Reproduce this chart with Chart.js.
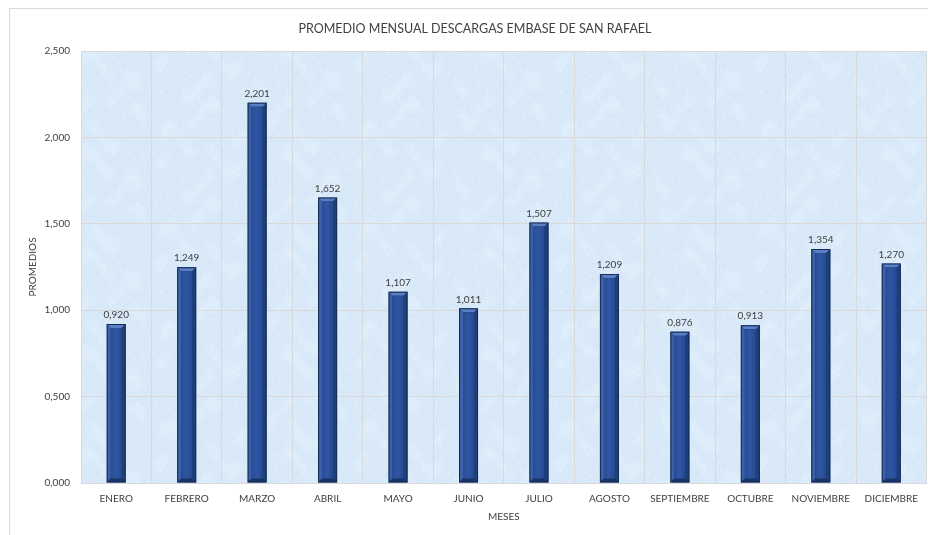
<!DOCTYPE html>
<html lang="es">
<head>
    <meta charset="UTF-8">
    <title>Promedio mensual descargas</title>
    <script src="https://cdn.jsdelivr.net/npm/chart.js"></script>
    <style>
        html, body { margin: 0; padding: 0; background: #fff; }
        #grafica { display: block; }
    </style>
</head>
<body>
    <canvas id="grafica" width="928" height="535"></canvas>

    <script>
        // Datos de la grafica
        const meses = ['ENERO', 'FEBRERO', 'MARZO', 'ABRIL', 'MAYO', 'JUNIO', 'JULIO',
                       'AGOSTO', 'SEPTIEMBRE', 'OCTUBRE', 'NOVIEMBRE', 'DICIEMBRE'];
        const promedios = [0.920, 1.249, 2.201, 1.652, 1.107, 1.011, 1.507,
                           1.209, 0.876, 0.913, 1.354, 1.270];
        const marcasY = [0, 0.5, 1, 1.5, 2, 2.5];

        const fuente = 'Lato, "Open Sans", sans-serif';
        const gris = '#404040';

        // 1.249 -> "1,249"
        function formato(v) {
            return Number(v).toFixed(3).replace('.', ',');
        }

        // textura clara (tipo marmol) para el fondo del area de trazado
        function texturaFondo(ctx) {
            const t = 200;
            const c = document.createElement('canvas');
            c.width = t; c.height = t;
            const g = c.getContext('2d');
            g.fillStyle = '#d4e5f6';
            g.fillRect(0, 0, t, t);
            const img = g.getImageData(0, 0, t, t);
            const k = Math.PI * 2 / t;
            for (let y = 0; y < t; y++) {
                for (let x = 0; x < t; x++) {
                    const a = Math.sin(3 * k * x + 1.7 * Math.sin(2 * k * y)) *
                              Math.sin(4 * k * y + 1.3 * Math.sin(5 * k * x));
                    const h = Math.sin(x * 12.9898 + y * 78.233) * 43758.5453;
                    const n = (h - Math.floor(h)) * 9;
                    const claro = Math.max(0, a) * 6 + n;
                    const i = (y * t + x) * 4;
                    img.data[i] = Math.min(255, img.data[i] + claro);
                    img.data[i + 1] = Math.min(255, img.data[i + 1] + claro * 0.8);
                    img.data[i + 2] = Math.min(255, img.data[i + 2] + claro * 0.4);
                }
            }
            g.putImageData(img, 0, 0);
            return ctx.createPattern(c, 'repeat');
        }

        // fondo blanco, marco del grafico y fondo del area de trazado
        const fondo = {
            id: 'fondo',
            beforeDraw(chart) {
                const ctx = chart.ctx;
                const a = chart.chartArea;
                ctx.save();
                ctx.fillStyle = '#ffffff';
                ctx.fillRect(0, 0, chart.width, chart.height);
                ctx.strokeStyle = '#d9d9d9';
                ctx.lineWidth = 1;
                ctx.strokeRect(9.5, 8.5, chart.width + 10, chart.height + 10);
                ctx.fillStyle = texturaFondo(ctx);
                ctx.fillRect(a.left, a.top, a.right - a.left, a.bottom - a.top);
                ctx.restore();
            }
        };

        // relieve de las barras y etiquetas de valor
        const relieve = {
            id: 'relieve',
            afterDatasetsDraw(chart) {
                const ctx = chart.ctx;
                const meta = chart.getDatasetMeta(0);
                ctx.save();
                meta.data.forEach((bar, i) => {
                    const w = bar.width;
                    const x0 = bar.x - w / 2, x1 = bar.x + w / 2;
                    const y0 = bar.y, y1 = bar.base;
                    const b = 3;

                    ctx.fillStyle = '#142b56';
                    ctx.fillRect(x0, y0, w, y1 - y0);

                    // biseles
                    const bisel = (pts, color) => {
                        ctx.beginPath();
                        ctx.moveTo(pts[0][0], pts[0][1]);
                        for (let k = 1; k < pts.length; k++) ctx.lineTo(pts[k][0], pts[k][1]);
                        ctx.closePath();
                        ctx.fillStyle = color;
                        ctx.fill();
                    };
                    const i0 = x0 + 1, i1 = x1 - 1, t0 = y0 + 1, t1 = y1 - 1;
                    bisel([[i0, t0], [i1, t0], [i1 - b, t0 + b], [i0 + b, t0 + b]], '#5a7fc2');
                    bisel([[i0, t0], [i0 + b, t0 + b], [i0 + b, t1 - b], [i0, t1]], '#3b62a8');
                    bisel([[i1, t0], [i1, t1], [i1 - b, t1 - b], [i1 - b, t0 + b]], '#1f3f7a');
                    bisel([[i0, t1], [i0 + b, t1 - b], [i1 - b, t1 - b], [i1, t1]], '#1a3468');

                    const gr = ctx.createLinearGradient(i0 + b, 0, i1 - b, 0);
                    gr.addColorStop(0, '#2a4e97');
                    gr.addColorStop(0.5, '#2e56a3');
                    gr.addColorStop(1, '#27498d');
                    ctx.fillStyle = gr;
                    ctx.fillRect(i0 + b, t0 + b, (i1 - b) - (i0 + b), (t1 - b) - (t0 + b));

                    ctx.fillStyle = gris;
                    ctx.font = '10px ' + fuente;
                    ctx.textAlign = 'center';
                    ctx.textBaseline = 'bottom';
                    ctx.fillText(formato(promedios[i]), bar.x, y0 - 4);
                });
                ctx.restore();
            }
        };

        const config = {
            type: 'bar',
            data: {
                labels: meses,
                datasets: [{
                    label: 'PROMEDIOS',
                    data: promedios,
                    backgroundColor: '#27498b',
                    borderWidth: 0,
                    categoryPercentage: 1,
                    barPercentage: 0.27
                }]
            },
            options: {
                responsive: false,
                animation: false,
                layout: { padding: { left: 22, right: 0, top: 0, bottom: 0 } },
                plugins: {
                    legend: { display: false },
                    tooltip: { enabled: false },
                    title: {
                        display: true,
                        text: 'PROMEDIO MENSUAL DESCARGAS EMBASE DE SAN RAFAEL',
                        color: gris,
                        font: { family: fuente, size: 12.5, weight: 'normal' },
                        padding: { top: 21, bottom: 15 }
                    }
                },
                scales: {
                    x: {
                        grid: { color: '#d9d9d9', offset: true, drawTicks: false },
                        border: { color: '#d9d9d9' },
                        ticks: {
                            color: gris,
                            font: { family: fuente, size: 10 },
                            padding: 10,
                            maxRotation: 0,
                            autoSkip: false
                        },
                        title: {
                            display: true,
                            text: 'MESES',
                            color: gris,
                            font: { family: fuente, size: 10 },
                            padding: 12
                        },
                        afterFit(scale) { scale.height = 52; }
                    },
                    y: {
                        min: 0,
                        max: 2.5,
                        grid: { color: '#d9d9d9', drawTicks: false },
                        border: { display: false },
                        afterBuildTicks(scale) {
                            scale.ticks = marcasY.map(v => ({ value: v }));
                        },
                        ticks: {
                            color: gris,
                            font: { family: fuente, size: 10 },
                            padding: 11,
                            callback: v => formato(v)
                        },
                        title: {
                            display: true,
                            text: 'PROMEDIOS',
                            color: gris,
                            font: { family: fuente, size: 10 },
                            padding: 5
                        },
                        afterFit(scale) { scale.width = 59; }
                    }
                }
            },
            plugins: [fondo, relieve]
        };

        new Chart(document.getElementById('grafica').getContext('2d'), config);
    </script>
</body>
</html>
